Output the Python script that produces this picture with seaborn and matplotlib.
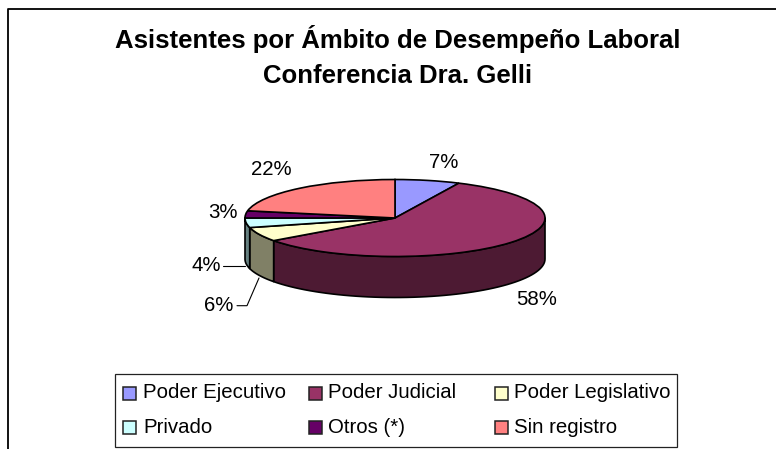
import numpy as np
import seaborn as sns
import matplotlib
matplotlib.use("Agg")
import matplotlib.pyplot as plt
from matplotlib.patches import Polygon, Rectangle

categories = ["Poder Ejecutivo", "Poder Judicial", "Poder Legislativo",
              "Privado", "Otros (*)", "Sin registro"]
values = [7, 58, 6, 4, 3, 22]
colors = ["#9999FF", "#993366", "#FFFFCC", "#CCFFFF", "#660066", "#FF8080"]
side_colors = ["#4D4D80", "#4D1A33", "#808066", "#668080", "#330033", "#804040"]
title_lines = ["Asistentes por Ámbito de Desempeño Laboral", "Conferencia Dra. Gelli"]

sns.set_theme(style="white")
plt.rcParams["font.family"] = ["Liberation Sans", "DejaVu Sans"]

W, H = 776, 449
fig = plt.figure(figsize=(W / 100, H / 100), dpi=100, facecolor="white")

# pie axes: 1 data unit = 150 px horizontally, 38.5 px vertically
cx, cy, rx, ry, depth_px = 395, 218, 150, 38.5, 41
left, right = -1.3, 1.3
bottom, top = -2.4, 1.3
ax = fig.add_axes([(cx + left * rx) / W, 1 - (cy - bottom * ry) / H,
                   (right - left) * rx / W, (top - bottom) * ry / H])
depth = depth_px / ry

wedges, _ = ax.pie(values, colors=colors, startangle=90, counterclock=False,
                   wedgeprops=dict(edgecolor="black", linewidth=1.2, zorder=5))
ax.set_aspect("auto")
ax.set_xlim(left, right)
ax.set_ylim(bottom, top)
ax.axis("off")

# extruded side of the front-facing slices
edges = np.cumsum([0] + values) / sum(values) * 360
for i in range(len(values)):
    a0, a1 = max(edges[i], 90), min(edges[i + 1], 270)
    if a1 <= a0:
        continue
    t = np.radians(np.linspace(a0, a1, 60))
    x, y = np.sin(t), np.cos(t)
    pts = np.r_[np.c_[x, y], np.c_[x[::-1], y[::-1] - depth]]
    ax.add_patch(Polygon(pts, closed=True, facecolor=side_colors[i],
                         edgecolor="black", linewidth=1.2, zorder=3,
                         joinstyle="round"))

FONT_SIZE = 14.7


def label(px, py, s):
    fig.text(px / W, 1 - py / H, s, ha="center", va="center",
             fontsize=FONT_SIZE, color="black")


label(443.5, 162, f"{values[0]}%")
label(537, 299.5, f"{values[1]}%")
label(271.5, 170, f"{values[5]}%")
label(223, 212, f"{values[4]}%")
label(206, 265.5, f"{values[3]}%")
label(218.5, 305.5, f"{values[2]}%")


def leader(xs, ys, lw=0.8):
    fig.add_artist(plt.Line2D(np.array(xs) / W, 1 - np.array(ys) / H,
                              color="black", linewidth=lw))


leader([223, 245], [265.7, 265.7])
leader([237, 247, 259], [305.7, 305.7, 278])

# outer chart frame (open at the bottom and the right)
leader([8, 8, 776], [449, 9, 9], lw=1.3)

for txt, base in zip(title_lines, [48.3, 82.5]):
    fig.text(397.5 / W, 1 - base / H, txt, ha="center", va="baseline",
             fontsize=18.5, fontweight="bold", color="black")

# legend
fig.add_artist(Rectangle((115 / W, 1 - 447 / H), (677 - 115) / W, 73 / H,
                         transform=fig.transFigure, facecolor="white",
                         edgecolor="#222222", linewidth=0.9))
swatch_x = [123, 309, 495]
swatch_top = [387, 421]
text_x = [143, 328, 514]
text_base = [398, 433]
for i, name in enumerate(categories):
    c, r = i % 3, i // 3
    fig.add_artist(Rectangle((swatch_x[c] / W, 1 - (swatch_top[r] + 13) / H),
                             13 / W, 13 / H, transform=fig.transFigure,
                             facecolor=colors[i], edgecolor="#222222",
                             linewidth=1.1))
    fig.text(text_x[c] / W, 1 - text_base[r] / H, name, ha="left",
             va="baseline", fontsize=FONT_SIZE, color="black")

fig.savefig("out.png", dpi=100)
